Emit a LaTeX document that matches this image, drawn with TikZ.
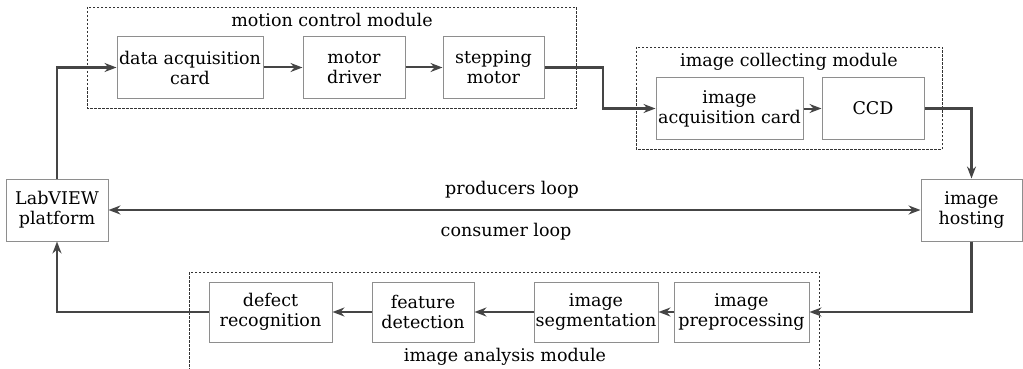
\documentclass[tikz,border=0pt]{standalone}
\usepackage{fontspec}
\setmainfont{DejaVu Serif}
\usetikzlibrary{arrows.meta}
\definecolor{boxgray}{HTML}{8E8E8E}
\definecolor{linegray}{HTML}{454545}
\begin{document}
\begin{tikzpicture}[x=1pt,y=-1pt,
  blk/.style={draw=boxgray,line width=1pt,fill=white,align=center,inner sep=0pt,
    font=\fontsize{17.5}{20}\selectfont},
  arr/.style={draw=linegray,line width=2.5pt,-{Stealth[length=12pt,width=9pt,inset=4pt]}},
  arrs/.style={draw=linegray,line width=2pt,-{Stealth[length=12pt,width=9pt,inset=4pt]}},
  arrb/.style={draw=linegray,line width=2.2pt,{Stealth[length=12pt,width=9pt,inset=4pt]}-{Stealth[length=12pt,width=9pt,inset=4pt]}},
  modbox/.style={draw=black!80,line width=0.8pt,dash pattern=on 2.5pt off 1.5pt},
  lbl/.style={font=\fontsize{17.5}{20}\selectfont,inner sep=0pt}]
\useasboundingbox (0,0) rectangle (1023,369);
\fill[white] (0,0) rectangle (1023,369);
% module frames
\draw[modbox] (87,7) rectangle (576,108);
\node[lbl] (mcm) at (332,20) {motion control module};
\draw[modbox] (636,47) rectangle (942,149);
\node[lbl] (icm) at (789,62) {image collecting module};
\draw[modbox] (189,272) rectangle (819,372);
\node[lbl] (iam) at (505,357) {image analysis module};
% blocks
\node[blk,minimum width=146pt,minimum height=61pt] (dac) at (190,67.5) {data acquisition\\card};
\node[blk,minimum width=102pt,minimum height=61pt] (md) at (354,67.5) {motor\\driver};
\node[blk,minimum width=101pt,minimum height=61pt] (sm) at (493.5,67.5) {stepping\\motor};
\node[blk,minimum width=147pt,minimum height=61pt] (iac) at (729.5,108.5) {image\\acquisition card};
\node[blk,minimum width=102pt,minimum height=61pt] (ccd) at (873,108.5) {CCD};
\node[blk,minimum width=102pt,minimum height=62pt] (lab) at (57,210) {LabVIEW\\platform};
\node[blk,minimum width=101pt,minimum height=62pt] (host) at (971.5,210) {image\\hosting};
\node[blk,minimum width=123pt,minimum height=60pt] (dr) at (270.5,312) {defect\\recognition};
\node[blk,minimum width=102pt,minimum height=60pt] (fd) at (423,312) {feature\\detection};
\node[blk,minimum width=124pt,minimum height=60pt] (seg) at (596,312) {image\\segmentation};
\node[blk,minimum width=135pt,minimum height=60pt] (pre) at (741.5,312) {image\\preprocessing};
% loop labels
\node[lbl] (pl) at (512,190) {producers loop};
\node[lbl] (cl) at (506,232) {consumer loop};
% connectors
\coordinate (k1) at (603,67.5);
\draw[arr] (lab.north) |- (dac.west);
\draw[arrs] (dac.east) -- (md.west);
\draw[arrs] (md.east) -- (sm.west);
\draw[arr] (sm.east) -- (k1) |- (iac.west);
\draw[arrs] (iac.east) -- (ccd.west);
\draw[arr] (ccd.east) -| (host.north);
\draw[arr] (host.south) |- (pre.east);
\draw[arrs] (pre.west) -- (seg.east);
\draw[arrs] (seg.west) -- (fd.east);
\draw[arrs] (fd.west) -- (dr.east);
\draw[arr] (dr.west) -| (lab.south);
\draw[arrb] (lab.east) -- (host.west);
\end{tikzpicture}
\end{document}
